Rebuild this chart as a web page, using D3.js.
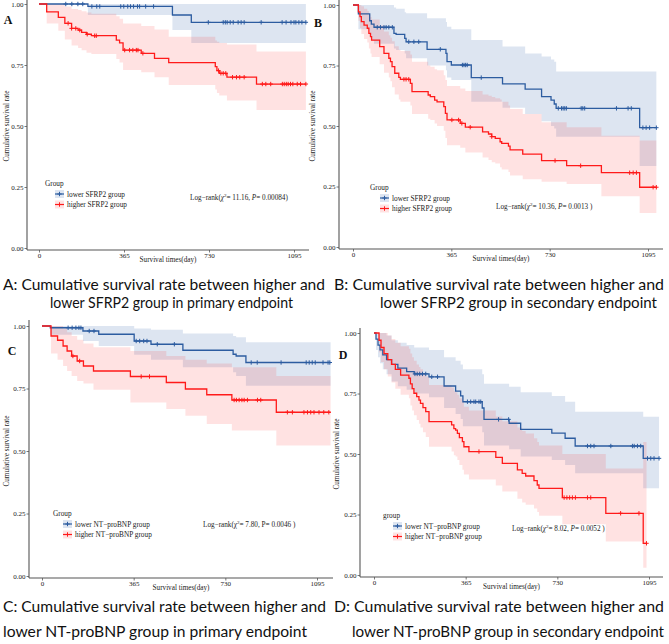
<!DOCTYPE html>
<html><head><meta charset="utf-8">
<script src="https://cdn.jsdelivr.net/npm/d3@7"></script>
<style>body{margin:0;background:#fff}svg{display:block}</style>
</head><body>
<svg id="chart" width="669" height="644"></svg>
<script>
// ---------- shared ticks ----------
const xTicks = [0, 365, 730, 1095];
const yTicks = [0, 0.25, 0.5, 0.75, 1];

// ---------- Panel A (SFRP2, primary) ----------
const aLowTime   = [0, 210, 573, 654];
const aLowSurv   = [1, 0.99, 0.955, 0.925];
const aLowUpper  = [1, 1, 1, 1];
const aLowLower  = [1, 0.955, 0.893, 0.84];
const aLowCensor = [115,141,167,188,227,248,261,351,364,381,393,406,423,432,458,492,727,791,800,808,821,834,855,868,881,954,1044,1061,1082,1095,1103,1116,1129,1146];
const aHighTime   = [0, 33, 83, 111, 140, 168, 183, 204, 225, 332, 346, 361, 439, 496, 557, 757, 764, 774, 807, 934];
const aHighSurv   = [1, 0.968, 0.945, 0.921, 0.900, 0.893, 0.884, 0.876, 0.870, 0.852, 0.841, 0.811, 0.798, 0.777, 0.760, 0.743, 0.727, 0.716, 0.700, 0.672];
const aHighUpper  = [1, 1, 1, 0.99, 0.98, 0.975, 0.97, 0.965, 0.96, 0.95, 0.94, 0.92, 0.91, 0.895, 0.866, 0.85, 0.845, 0.84, 0.834, 0.805];
const aHighLower  = [1, 0.92, 0.89, 0.855, 0.83, 0.82, 0.81, 0.80, 0.795, 0.775, 0.76, 0.73, 0.72, 0.70, 0.668, 0.65, 0.635, 0.625, 0.605, 0.566];
const aHighCensor = [125,140,158,175,207,239,246,368,389,403,418,425,446,771,781,791,802,831,848,862,881,959,974,995,1045,1053,1062,1070,1080,1090,1109,1123,1146];

// ---------- Panel B (SFRP2, secondary) ----------
const bLowTime   = [0, 20, 62, 68, 78, 152, 160, 192, 197, 275, 345, 349, 365, 439, 555, 639, 700, 735, 747, 754, 1064];
const bLowSurv   = [1, 0.963, 0.935, 0.921, 0.908, 0.883, 0.879, 0.862, 0.848, 0.817, 0.80, 0.766, 0.752, 0.700, 0.674, 0.652, 0.621, 0.607, 0.591, 0.573, 0.493];
const bLowUpper  = [1, 1, 1, 1, 1, 0.99, 0.985, 0.97, 0.966, 0.945, 0.93, 0.91, 0.90, 0.855, 0.828, 0.80, 0.787, 0.775, 0.766, 0.725, 0.725];
const bLowLower  = [1, 0.90, 0.87, 0.855, 0.84, 0.82, 0.814, 0.80, 0.78, 0.75, 0.73, 0.70, 0.69, 0.60, 0.575, 0.55, 0.52, 0.50, 0.49, 0.456, 0.335];
const bLowCensor = [90,102,115,123,133,146,207,226,244,324,406,412,418,424,476,762,774,780,786,792,847,853,860,978,1021,1033,1076,1088,1101,1126];
const bHighTime  = [0, 20, 26, 31, 41, 53, 59, 65, 69, 99, 115, 133, 139, 145, 155, 170, 176, 213, 219, 279, 287, 303, 312, 337, 343, 349, 398, 417, 481, 503, 515, 528, 546, 552, 577, 583, 630, 700, 793, 922, 1064];
const bHighSurv  = [1, 0.972, 0.952, 0.931, 0.917, 0.904, 0.883, 0.869, 0.855, 0.828, 0.800, 0.780, 0.766, 0.745, 0.718, 0.701, 0.693, 0.676, 0.642, 0.628, 0.621, 0.607, 0.600, 0.580, 0.552, 0.525, 0.511, 0.495, 0.476, 0.467, 0.456, 0.449, 0.435, 0.428, 0.417, 0.401, 0.384, 0.357, 0.336, 0.307, 0.247];
const bHighUpper = [1, 1, 1, 0.995, 0.985, 0.975, 0.96, 0.95, 0.94, 0.915, 0.89, 0.875, 0.865, 0.85, 0.83, 0.815, 0.81, 0.795, 0.765, 0.75, 0.745, 0.735, 0.73, 0.71, 0.69, 0.665, 0.655, 0.645, 0.63, 0.625, 0.62, 0.615, 0.61, 0.60, 0.585, 0.57, 0.55, 0.515, 0.495, 0.46, 0.44];
const bHighLower = [1, 0.935, 0.905, 0.88, 0.86, 0.845, 0.82, 0.80, 0.785, 0.755, 0.72, 0.70, 0.685, 0.66, 0.63, 0.61, 0.60, 0.585, 0.55, 0.53, 0.525, 0.51, 0.50, 0.48, 0.45, 0.42, 0.41, 0.39, 0.37, 0.36, 0.35, 0.345, 0.33, 0.32, 0.31, 0.295, 0.28, 0.27, 0.26, 0.21, 0.14];
const bHighCensor = [189,197,207,367,392,404,435,515,750,845,1027,1040,1052,1114,1126];

// ---------- Panel C (NT-proBNP, primary) ----------
const cLowTime   = [0, 33, 163, 226, 367, 434, 561, 761, 773, 812];
const cLowSurv   = [1, 0.993, 0.980, 0.967, 0.940, 0.927, 0.903, 0.887, 0.880, 0.854];
const cLowUpper  = [1, 1, 1, 1, 0.99, 0.985, 0.97, 0.96, 0.955, 0.935];
const cLowLower  = [1, 0.965, 0.94, 0.92, 0.885, 0.865, 0.835, 0.815, 0.80, 0.761];
const cLowCensor = [104,120,135,147,155,188,207,375,389,405,418,459,527,833,857,952,1052,1064,1076,1088,1119,1139,1146];
const cHighTime  = [0, 36, 62, 84, 100, 118, 140, 165, 205, 352, 495, 571, 656, 756, 933];
const cHighSurv  = [1, 0.96, 0.943, 0.92, 0.90, 0.88, 0.86, 0.84, 0.82, 0.798, 0.774, 0.748, 0.725, 0.704, 0.655];
const cHighUpper = [1, 1, 1, 0.99, 0.975, 0.96, 0.945, 0.93, 0.915, 0.90, 0.88, 0.865, 0.85, 0.835, 0.80];
const cHighLower = [1, 0.89, 0.865, 0.84, 0.82, 0.80, 0.78, 0.77, 0.745, 0.694, 0.668, 0.641, 0.608, 0.582, 0.522];
const cHighCensor = [123,150,395,428,765,774,785,796,805,818,858,871,977,997,1043,1057,1070,1083,1103,1122,1142];

// ---------- Panel D (NT-proBNP, secondary) ----------
const dLowTime   = [0, 8, 16, 24, 35, 50, 70, 95, 130, 160, 219, 279, 325, 345, 354, 431, 438, 538, 584, 708, 761, 801, 1072];
const dLowSurv   = [1, 0.975, 0.95, 0.93, 0.91, 0.89, 0.87, 0.855, 0.84, 0.831, 0.819, 0.781, 0.76, 0.74, 0.716, 0.69, 0.643, 0.627, 0.602, 0.586, 0.565, 0.533, 0.482];
const dLowUpper  = [1, 1, 1, 1, 1, 0.99, 0.97, 0.96, 0.95, 0.94, 0.93, 0.90, 0.885, 0.87, 0.85, 0.83, 0.79, 0.778, 0.755, 0.74, 0.716, 0.675, 0.654];
const dLowLower  = [1, 0.93, 0.90, 0.875, 0.85, 0.83, 0.80, 0.78, 0.765, 0.75, 0.735, 0.69, 0.665, 0.645, 0.615, 0.59, 0.535, 0.52, 0.49, 0.475, 0.455, 0.42, 0.358];
const dLowCensor = [163,172,182,193,206,230,253,372,385,398,405,418,425,496,536,850,863,876,943,1029,1036,1049,1062,1089,1102,1115,1135];
const dHighTime  = [0, 20, 28, 40, 55, 70, 85, 106, 139, 145, 152, 159, 170, 179, 185, 195, 206, 219, 309, 318, 325, 332, 340, 352, 358, 378, 485, 511, 571, 590, 604, 637, 650, 657, 750, 923, 1072];
const dHighSurv  = [1, 0.97, 0.94, 0.915, 0.89, 0.87, 0.85, 0.826, 0.813, 0.79, 0.77, 0.751, 0.737, 0.723, 0.709, 0.692, 0.675, 0.634, 0.620, 0.605, 0.599, 0.585, 0.568, 0.551, 0.530, 0.510, 0.486, 0.461, 0.434, 0.42, 0.409, 0.39, 0.372, 0.358, 0.320, 0.255, 0.131];
const dHighUpper = [1, 1, 1, 1, 0.99, 0.975, 0.96, 0.945, 0.935, 0.915, 0.90, 0.885, 0.87, 0.86, 0.85, 0.835, 0.82, 0.785, 0.775, 0.76, 0.755, 0.745, 0.73, 0.715, 0.695, 0.68, 0.655, 0.635, 0.61, 0.595, 0.585, 0.565, 0.55, 0.535, 0.50, 0.44, 0.55];
const dHighLower = [1, 0.92, 0.88, 0.85, 0.82, 0.795, 0.77, 0.745, 0.73, 0.70, 0.68, 0.66, 0.64, 0.625, 0.61, 0.59, 0.57, 0.53, 0.51, 0.495, 0.49, 0.475, 0.455, 0.435, 0.415, 0.395, 0.37, 0.345, 0.315, 0.30, 0.29, 0.275, 0.26, 0.245, 0.21, 0.138, 0.03];
const dHighCensor = [418,757,768,779,790,802,850,863,982,1055,1085];

// ---------- texts ----------
const legendTitles = ["Group", "Group", "Group", "group"];
const lowLabels  = ["lower SFRP2 group", "lower SFRP2 group", "lower NT\u2212proBNP group", "lower NT\u2212proBNP group"];
const highLabels = ["higher SFRP2 group", "higher SFRP2 group", "higher NT\u2212proBNP group", "higher NT\u2212proBNP group"];
const chiValues = ["11.16", "10.36", "7.80", "8.02"];
const pValues   = ["0.00084)", "0.0013 )", "0.0046 )", "0.0052 )"];
const captions1 = ["A: Cumulative survival rate between higher and", "B: Cumulative survival rate between higher and",
                   "C: Cumulative survival rate between higher and", "D: Cumulative survival rate between higher and"];
const captions2 = ["lower SFRP2 group in primary endpoint", "lower SFRP2 group in secondary endpoint",
                   "lower NT-proBNP group in primary endpoint", "lower NT-proBNP group in secondary endpoint"];
const panelLetters = ["A", "B", "C", "D"];

// ---------- drawing ----------
const BLUE = "#2C5CA0", RED = "#FF1A1A";
const BLUE_FILL = "#2E5FA8", RED_FILL = "#FF2020";
const SERIF = "'Liberation Serif','Times New Roman',serif";
const svg = d3.select("#chart");

const panels = [
  { low:{t:aLowTime,s:aLowSurv,u:aLowUpper,l:aLowLower,c:aLowCensor,end:1146},
    high:{t:aHighTime,s:aHighSurv,u:aHighUpper,l:aHighLower,c:aHighCensor,end:1146},
    g:{x0:39,x1:294,y0:248,y1:4,axX:27,axTop:0,axRight:309,
       letter:[8,24], ytitle:[6,126], legend:[45,183], lr:[190,200], cap1:[3,325,290], cap2:[50,293,308], italic:true}},
  { low:{t:bLowTime,s:bLowSurv,u:bLowUpper,l:bLowLower,c:bLowCensor,end:1126},
    high:{t:bHighTime,s:bHighSurv,u:bHighUpper,l:bHighLower,c:bHighCensor,end:1126},
    g:{x0:353,x1:648,y0:247,y1:5,axX:339,axTop:0,axRight:663,
       letter:[318,27], ytitle:[312,126], legend:[370,187], lr:[496,209], cap1:[334,664,290], cap2:[380,657,308], italic:true}},
  { low:{t:cLowTime,s:cLowSurv,u:cLowUpper,l:cLowLower,c:cLowCensor,end:1149},
    high:{t:cHighTime,s:cHighSurv,u:cHighUpper,l:cHighLower,c:cHighCensor,end:1149},
    g:{x0:42,x1:317,y0:576,y1:326,axX:29,axTop:320,axRight:333,
       letter:[12,355], ytitle:[6,451], legend:[53,513], lr:[203,527], cap1:[3,326,612], cap2:[3,307,637], italic:false}},
  { low:{t:dLowTime,s:dLowSurv,u:dLowUpper,l:dLowLower,c:dLowCensor,end:1135},
    high:{t:dHighTime,s:dHighSurv,u:dHighUpper,l:dHighLower,c:dHighCensor,end:1085},
    g:{x0:374,x1:649,y0:575,y1:333,axX:360,axTop:328,axRight:663,
       letter:[343,359], ytitle:[336,454], legend:[383,515], lr:[512,531], cap1:[334,664,612], cap2:[352,664,637], italic:true}}
];

function stepVal(T, S, t){ return S[Math.max(0, d3.bisectRight(T, t) - 1)]; }

panels.forEach((p, k) => {
  const G = p.g;
  const g = svg.append("g");
  const x = d3.scaleLinear().domain([0, 1095]).range([G.x0, G.x1]);
  const y = d3.scaleLinear().domain([0, 1]).range([G.y0, G.y1]);

  // confidence bands (blue first, red on top)
  [[p.low, BLUE_FILL, 0.16], [p.high, RED_FILL, 0.13]].forEach(([ser, col, op]) => {
    const pts = ser.t.map((t, i) => ({t, u: ser.u[i], l: ser.l[i]}));
    pts.push({t: ser.end, u: ser.u[ser.u.length-1], l: ser.l[ser.l.length-1]});
    g.append("path")
      .attr("d", d3.area().curve(d3.curveStepAfter).x(d => x(d.t)).y0(d => y(d.l)).y1(d => y(d.u))(pts))
      .attr("fill", col).attr("fill-opacity", op);
  });

  // survival step lines + censor marks
  [[p.low, BLUE], [p.high, RED]].forEach(([ser, col]) => {
    const pts = ser.t.map((t, i) => ({t, s: ser.s[i]}));
    pts.push({t: ser.end, s: ser.s[ser.s.length-1]});
    g.append("path")
      .attr("d", d3.line().curve(d3.curveStepAfter).x(d => x(d.t)).y(d => y(d.s))(pts))
      .attr("fill", "none").attr("stroke", col).attr("stroke-width", 1.3);
    g.append("g").selectAll("path").data(ser.c).join("path")
      .attr("transform", d => `translate(${x(d)},${y(stepVal(ser.t, ser.s, d))})`)
      .attr("d", "M-2.2,0H2.2M0,-2.2V2.2")
      .attr("stroke", col).attr("stroke-width", 1);
  });

  // axes
  const yAx = g.append("g").attr("transform", `translate(${G.axX},0)`)
    .call(d3.axisLeft(y).tickValues(yTicks).tickFormat(d3.format(".2f")).tickSize(2.5).tickPadding(1));
  yAx.select(".domain").remove();
  const xAx = g.append("g").attr("transform", `translate(0,${G.y0 + 2})`)
    .call(d3.axisBottom(x).tickValues(xTicks).tickFormat(d3.format("d")).tickSize(2.5).tickPadding(0.5));
  xAx.select(".domain").remove();
  [yAx, xAx].forEach(a => {
    a.selectAll("text").attr("font-family", SERIF).attr("font-size", 7).attr("fill", "#222");
    a.selectAll("line").attr("stroke", "#555").attr("stroke-width", 0.8);
  });
  g.append("line").attr("x1", G.axX).attr("x2", G.axX).attr("y1", G.axTop).attr("y2", G.y0 + 2)
    .attr("stroke", "#555").attr("stroke-width", 1.1);
  g.append("line").attr("x1", G.axX).attr("x2", G.axRight).attr("y1", G.y0 + 2).attr("y2", G.y0 + 2)
    .attr("stroke", "#555").attr("stroke-width", 1.1);

  // axis titles
  g.append("text").attr("x", (G.axX + G.axRight) / 2).attr("y", G.y0 + 14)
    .attr("text-anchor", "middle").attr("font-family", SERIF).attr("font-size", 7.2).attr("fill", "#222")
    .text("Survival times(day)");
  g.append("text").attr("transform", `translate(${G.ytitle[0] + 2.5},${G.ytitle[1]}) rotate(-90)`)
    .attr("text-anchor", "middle").attr("font-family", SERIF).attr("font-size", 7.2).attr("fill", "#222")
    .text("Cumulative survival rate");

  // panel letter
  g.append("text").attr("x", G.letter[0]).attr("y", G.letter[1]).attr("text-anchor", "middle")
    .attr("font-family", SERIF).attr("font-weight", "bold").attr("font-size", 12).attr("fill", "#111")
    .text(panelLetters[k]);

  // legend
  const [lx, ly] = G.legend;
  g.append("text").attr("x", lx).attr("y", ly + 2.5).attr("font-family", SERIF).attr("font-size", 7.3).attr("fill", "#222")
    .text(legendTitles[k]);
  [[lowLabels[k], BLUE, BLUE_FILL, 0.16], [highLabels[k], RED, RED_FILL, 0.13]].forEach(([lab, col, fcol, op], i) => {
    const cy = ly + 11 + i * 10.5;
    g.append("rect").attr("x", lx + 10).attr("y", cy - 4).attr("width", 9).attr("height", 8).attr("fill", fcol).attr("fill-opacity", op);
    g.append("line").attr("x1", lx + 10).attr("x2", lx + 19).attr("y1", cy).attr("y2", cy).attr("stroke", col).attr("stroke-width", 1.2);
    g.append("path").attr("d", `M${lx+12.3},${cy}H${lx+16.7}M${lx+14.5},${cy-2.2}V${cy+2.2}`).attr("stroke", col).attr("stroke-width", 1);
    g.append("text").attr("x", lx + 22).attr("y", cy + 2.5).attr("font-family", SERIF).attr("font-size", 7.3).attr("fill", "#222").text(lab);
  });

  // log-rank annotation
  const lr = g.append("text").attr("x", G.lr[0]).attr("y", G.lr[1]).attr("font-family", SERIF).attr("font-size", 7.2).attr("fill", "#222");
  lr.append("tspan").text("Log\u2212rank(");
  lr.append("tspan").attr("font-style", G.italic ? "italic" : "normal").text("\u03C7");
  lr.append("tspan").attr("font-size", 5).attr("dy", -3).text("2");
  lr.append("tspan").attr("dy", 3).text("= " + chiValues[k] + ", ");
  lr.append("tspan").attr("font-style", G.italic ? "italic" : "normal").text("P");
  lr.append("tspan").text("= " + pValues[k]);

  // captions
  [[captions1[k], G.cap1], [captions2[k], G.cap2]].forEach(([txt, c]) => {
    svg.append("text").attr("x", c[0]).attr("y", c[2]).attr("font-family", "Lato, 'Open Sans', sans-serif")
      .attr("font-size", 15).attr("fill", "#111")
      .attr("textLength", c[1] - c[0]).attr("lengthAdjust", "spacingAndGlyphs").text(txt);
  });
});
</script>
</body></html>
